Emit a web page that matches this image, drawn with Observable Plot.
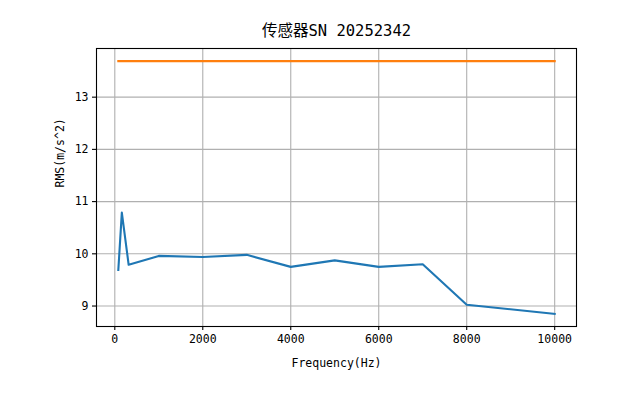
<!DOCTYPE html>
<html>
<head>
<meta charset="utf-8">
<script src="https://cdn.jsdelivr.net/npm/d3@7"></script>
<script src="https://cdn.jsdelivr.net/npm/@observablehq/plot@0.6"></script>
<style>
  html, body { margin: 0; padding: 0; background: #fff; }
  svg { display: block; }
</style>
</head>
<body>
<div id="chart"></div>
<script>
const freq = [80, 160, 315, 1000, 2000, 3000, 4000, 5000, 6000, 7000, 8000, 10000];
const rms = [9.69, 10.79, 9.79, 9.96, 9.94, 9.98, 9.75, 9.875, 9.75, 9.80, 9.025, 8.85];
const limitFreq = [80, 10000];
const limitRms = [13.69, 13.69];
const xTicks = [0, 2000, 4000, 6000, 8000, 10000];
const yTicks = [9, 10, 11, 12, 13];
const title = "传感器SN 20252342";
const xLabel = "Frequency(Hz)";
const yLabel = "RMS(m/s^2)";

const measured = freq.map((f, i) => ({f, v: rms[i]}));
const limit = limitFreq.map((f, i) => ({f, v: limitRms[i]}));

const xmin = d3.min(freq), xmax = d3.max(freq);
const ymin = d3.min([...rms, ...limitRms]), ymax = d3.max([...rms, ...limitRms]);
const xm = (xmax - xmin) * 0.05, ym = (ymax - ymin) * 0.05;

const font = "'DejaVu Sans Mono', 'Noto Sans CJK SC', monospace";

const chart = Plot.plot({
  width: 640,
  height: 407,
  marginLeft: 96,
  marginRight: 64,
  marginTop: 48,
  marginBottom: 81,
  style: {fontFamily: font, fontSize: "11.5px", color: "#000", background: "#fff"},
  x: {domain: [xmin - xm, xmax + xm], label: null},
  y: {domain: [ymin - ym, ymax + ym], label: null},
  marks: [
    Plot.gridX(xTicks, {stroke: "#b0b0b0", strokeOpacity: 1, strokeWidth: 1.1}),
    Plot.gridY(yTicks, {stroke: "#b0b0b0", strokeOpacity: 1, strokeWidth: 1.1}),
    Plot.line(measured, {x: "f", y: "v", stroke: "#1f77b4", strokeWidth: 2.1, strokeLinejoin: "round", strokeLinecap: "square"}),
    Plot.line(limit, {x: "f", y: "v", stroke: "#ff7f0e", strokeWidth: 2.1, strokeLinecap: "square"}),
    Plot.frame({stroke: "#000", strokeWidth: 1.1}),
    Plot.axisX(xTicks, {tickSize: 4, tickPadding: 4, fontSize: 11.5, stroke: "#000", strokeWidth: 1.1, tickFormat: d => String(d), label: null}),
    Plot.axisY(yTicks, {tickSize: 4, tickPadding: 4, fontSize: 11.5, stroke: "#000", strokeWidth: 1.1, tickFormat: d => String(d), label: null}),
    Plot.text([title], {frameAnchor: "top", dy: -13, fontSize: 15.5, fill: "#000", lineAnchor: "bottom"}),
    Plot.text([xLabel], {frameAnchor: "bottom", dy: 40, fontSize: 11.5, fill: "#000", lineAnchor: "bottom"}),
    Plot.text([yLabel], {frameAnchor: "left", dx: -36, rotate: -90, fontSize: 11.5, fill: "#000"})
  ]
});
document.getElementById("chart").appendChild(chart);
</script>
</body>
</html>
